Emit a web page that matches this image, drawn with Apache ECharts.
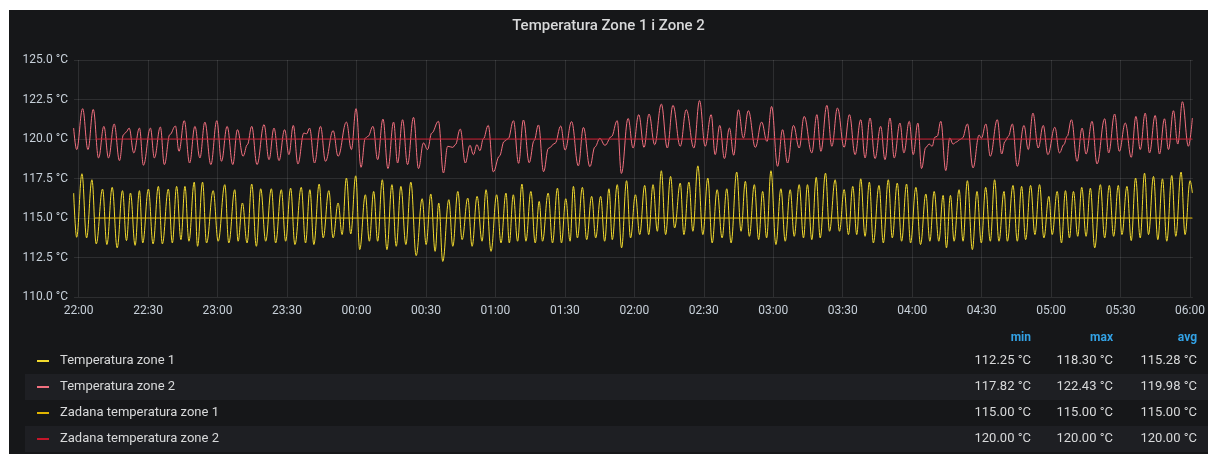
<!DOCTYPE html>
<html>
<head>
<meta charset="utf-8">
<script src="https://cdn.jsdelivr.net/npm/echarts@6/dist/echarts.min.js"></script>
<style>
  html, body { margin: 0; padding: 0; background: #ffffff; }
  #chart { position: absolute; left: 9px; top: 10px; width: 1199px; height: 444px; }
</style>
</head>
<body>
<div id="chart"></div>
<script>
// Readings as [minutes after 22:00, °C]
const zone1 = [
  [-2.15,116.58],[-0.86,113.78],[1.43,117.80],[3.44,113.74],[5.74,117.42],[7.60,113.36],[10.33,116.83],[12.20,113.32],
  [14.49,116.94],[16.64,113.11],[18.94,116.73],[20.66,113.57],[22.38,116.58],[24.39,113.27],[26.26,116.73],[27.69,113.42],
  [30.13,116.83],[32.14,113.36],[34.43,117.00],[36.15,113.36],[38.74,116.83],[40.46,113.42],[42.32,117.00],[44.19,113.63],
  [45.91,117.00],[47.63,113.53],[49.93,117.27],[51.36,113.21],[53.52,117.27],[55.24,113.42],[58.11,116.73],[60.26,113.53],
  [63.13,117.11],[64.85,113.42],[67.43,116.79],[68.87,113.53],[70.73,115.95],[72.74,113.42],[74.75,117.15],[76.76,113.21],
  [78.63,116.85],[80.79,113.53],[83.23,116.85],[85.09,113.42],[87.53,116.79],[89.40,113.53],[91.55,116.89],[93.41,113.32],
  [96.14,116.94],[98.00,113.42],[99.87,116.79],[101.59,113.32],[103.89,117.15],[105.61,113.74],[108.05,116.73],[109.91,113.74],
  [112.06,115.95],[113.79,113.95],[115.65,117.53],[117.52,113.99],[119.67,117.67],[121.39,113.00],[123.83,116.47],[125.55,113.53],
  [127.42,116.68],[129.14,113.53],[131.15,117.42],[133.15,113.00],[135.31,117.11],[137.17,113.21],[139.18,117.00],[141.33,113.32],
  [143.48,117.27],[145.78,112.62],[148.36,116.22],[150.08,113.32],[152.09,116.52],[153.96,112.89],[155.53,115.95],[157.26,112.25],
  [159.88,116.16],[161.60,113.21],[163.76,116.68],[165.62,113.63],[168.06,116.26],[169.93,113.21],[172.08,116.37],[174.23,113.53],
  [175.95,116.79],[178.10,112.89],[180.54,116.47],[182.41,113.42],[184.56,116.58],[186.00,113.42],[187.72,116.47],[189.58,113.53],
  [191.45,117.15],[193.17,113.53],[195.32,116.68],[197.19,113.42],[198.91,116.05],[200.34,113.53],[202.78,116.58],[204.65,113.42],
  [206.80,116.89],[208.52,113.42],[210.38,116.22],[212.25,113.53],[213.68,117.00],[215.41,113.74],[217.56,116.94],[219.42,113.63],
  [221.57,116.37],[223.30,113.74],[225.45,116.37],[227.17,113.53],[229.04,116.85],[230.47,113.63],[232.62,117.11],[234.49,113.11],
  [236.64,117.36],[238.36,113.74],[240.46,116.47],[242.32,113.95],[244.47,117.06],[246.20,113.95],[248.06,117.11],[249.93,114.16],
  [251.65,117.99],[253.51,113.95],[255.66,117.63],[257.39,114.37],[259.83,117.21],[261.40,113.95],[263.56,117.27],[265.28,114.16],
  [267.43,118.30],[269.58,113.95],[271.73,117.53],[273.60,113.42],[275.75,116.79],[277.90,113.74],[279.91,116.85],[281.78,113.42],
  [284.21,117.91],[286.08,114.16],[287.95,117.32],[289.67,113.84],[291.82,117.11],[293.68,113.63],[295.41,116.68],[297.13,113.74],
  [299.00,117.99],[301.14,113.32],[303.30,116.85],[305.16,113.53],[307.31,116.79],[309.04,113.84],[311.19,117.11],[313.05,113.74],
  [314.77,117.11],[316.64,113.63],[318.55,117.57],[320.27,113.74],[322.56,117.84],[324.29,114.16],[326.73,117.42],[328.59,114.16],
  [330.60,116.80],[332.46,113.95],[334.33,117.00],[336.05,113.95],[337.77,117.48],[339.64,113.84],[341.50,117.27],[343.22,113.42],
  [345.66,117.06],[347.53,113.42],[349.68,117.42],[351.40,113.74],[353.55,117.21],[355.42,113.53],[357.57,117.15],[359.29,113.42],
  [361.59,116.94],[363.60,113.32],[365.89,116.52],[367.62,113.53],[369.48,116.68],[371.49,113.53],[373.35,116.43],[374.79,113.11],
  [376.51,116.43],[378.09,113.53],[380.24,116.79],[381.96,113.53],[383.83,117.36],[385.98,113.00],[387.99,116.68],[389.85,113.42],
  [391.72,116.94],[393.73,113.53],[395.59,117.42],[397.46,113.53],[399.65,116.68],[401.09,113.53],[403.53,117.06],[405.39,113.53],
  [407.26,117.00],[408.98,113.63],[411.13,117.06],[413.00,113.95],[415.00,117.11],[416.87,113.74],[419.02,116.37],[420.46,113.95],
  [422.61,116.68],[424.47,113.42],[426.19,116.73],[427.92,113.74],[429.64,116.68],[431.50,113.84],[433.22,116.94],[435.09,113.84],
  [436.95,116.89],[438.82,113.11],[441.26,117.11],[443.12,113.74],[445.13,117.06],[446.99,113.84],[449.01,117.06],[450.58,113.95],
  [452.74,117.00],[454.60,113.57],[456.47,117.53],[458.48,113.74],[460.34,117.84],[462.06,113.95],[464.21,117.63],[466.08,113.63],
  [468.09,117.48],[469.95,113.53],[472.11,117.69],[473.83,113.84],[476.12,117.91],[477.84,113.95],[480.00,117.36],[481.00,116.58]
];

const zone2 = [
  [-2.15,120.69],[-0.86,119.33],[1.72,121.92],[4.02,119.33],[6.31,121.87],[8.61,118.80],[10.90,120.80],[12.91,118.80],
  [15.35,120.95],[17.65,118.63],[19.37,120.27],[20.52,120.44],[21.81,120.69],[23.82,119.12],[26.26,120.69],[27.98,118.34],
  [30.99,120.69],[32.71,118.80],[35.29,120.76],[37.02,118.38],[39.40,120.28],[41.80,120.82],[43.33,119.22],[45.62,121.16],
  [47.92,118.48],[50.22,120.80],[52.37,118.80],[54.52,121.07],[57.10,118.38],[59.68,121.16],[61.69,118.59],[64.13,120.80],
  [66.57,118.38],[68.58,120.59],[71.02,118.91],[72.88,119.64],[74.75,120.80],[77.04,118.38],[80.07,120.91],[82.22,118.69],
  [84.37,120.69],[86.53,118.63],[88.96,120.59],[90.83,119.01],[92.70,120.86],[94.70,118.42],[97.29,120.38],[98.43,120.32],
  [99.73,120.69],[101.88,118.48],[104.46,120.80],[106.61,118.59],[109.91,120.53],[112.06,118.91],[115.65,121.07],[117.80,119.33],
  [119.81,121.92],[121.96,118.21],[123.83,120.06],[124.98,120.17],[127.13,120.80],[129.14,118.69],[131.43,121.26],[133.58,118.13],
  [136.02,121.07],[137.75,118.48],[139.90,121.22],[142.05,118.38],[144.63,121.37],[146.78,118.13],[148.94,119.75],[150.66,119.33],
  [152.52,120.38],[155.39,121.12],[157.54,117.85],[159.40,119.54],[161.60,119.47],[162.70,119.64],[164.80,120.63],[167.00,118.48],
  [169.00,119.60],[170.50,119.01],[172.00,119.64],[173.30,119.26],[174.80,120.02],[176.90,120.86],[179.10,117.92],[181.70,118.91],
  [183.80,119.85],[185.50,120.02],[187.80,121.16],[190.00,118.46],[192.10,121.20],[194.60,118.50],[196.70,119.90],[198.60,120.89],
  [200.80,117.93],[202.90,119.41],[205.80,119.73],[208.20,120.82],[210.10,119.30],[212.90,121.10],[215.80,118.30],[218.00,120.73],
  [220.80,118.25],[223.00,119.50],[225.10,120.04],[227.30,119.60],[230.10,120.15],[232.60,121.16],[234.40,117.82],[237.30,121.30],
  [239.45,119.43],[241.89,121.54],[244.19,119.47],[246.34,121.58],[248.78,119.64],[251.65,122.21],[254.23,119.43],[256.67,122.13],
  [259.83,119.54],[262.41,121.85],[265.71,119.43],[268.15,122.43],[270.59,119.54],[273.17,121.54],[274.89,119.01],[276.90,120.86],
  [278.91,118.76],[281.06,120.69],[282.92,118.97],[284.93,121.85],[287.08,120.06],[289.24,121.79],[292.25,119.47],[294.98,121.07],
  [297.27,119.85],[299.28,122.06],[301.86,118.27],[304.01,120.59],[306.17,118.48],[308.75,120.86],[311.19,119.43],[313.34,121.43],
  [316.64,119.12],[318.83,121.54],[320.56,119.22],[323.14,122.13],[325.29,119.54],[327.73,121.96],[330.60,119.47],[332.90,121.54],
  [335.33,119.01],[337.77,121.22],[339.64,118.80],[341.79,121.33],[343.94,118.76],[346.38,120.80],[348.25,118.69],[350.40,121.33],
  [352.26,118.80],[354.70,121.01],[356.42,119.12],[358.72,121.12],[360.44,119.01],[362.45,121.01],[364.03,118.13],[365.89,119.47],
  [367.33,119.68],[368.62,119.54],[369.77,120.11],[370.77,120.17],[372.35,121.12],[374.50,118.00],[376.22,120.06],[377.66,119.68],
  [379.09,119.81],[380.53,119.96],[381.68,120.06],[383.83,120.95],[386.27,118.17],[388.90,120.25],[389.90,120.05],[391.80,120.95],
  [393.73,118.91],[396.74,121.22],[398.65,119.05],[400.08,119.85],[401.52,120.17],[403.24,120.95],[405.39,118.27],[408.26,120.86],
  [410.13,119.33],[412.13,121.64],[414.43,119.43],[416.58,120.86],[418.59,119.01],[421.60,120.74],[423.61,119.12],[425.48,119.64],
  [426.91,120.17],[428.78,121.22],[431.22,118.59],[433.37,120.69],[435.09,119.05],[437.67,121.12],[439.82,118.42],[443.12,121.28],
  [444.85,119.12],[447.43,121.58],[449.44,119.22],[452.02,121.01],[454.60,118.84],[456.61,121.43],[458.48,119.33],[460.63,121.64],
  [462.49,119.12],[464.93,121.49],[466.80,119.05],[468.95,121.28],[470.67,119.33],[472.82,121.79],[474.69,119.68],[476.70,122.36],
  [479.28,119.54],[481.00,121.33]
];

// Setpoints
const setpoint1 = [[7.0,115.0],[481.0,115.0]];
const setpoint2 = [[7.2,120.0],[481.0,120.0]];

const seriesNames = ['Temperatura zone 1', 'Temperatura zone 2', 'Zadana temperatura zone 1', 'Zadana temperatura zone 2'];
const seriesColors = ['#F2DA2E', '#F2707F', '#E0B400', '#C4162A'];

// Legend table statistics
const statHeaders = ['min', 'max', 'avg'];
const statMin = [112.25, 117.82, 115.00, 120.00];
const statMax = [118.30, 122.43, 115.00, 120.00];
const statAvg = [115.28, 119.98, 115.00, 120.00];

// Axis ticks: minutes after 22:00 (every half hour) and °C
const xTickMinutes = [0, 30, 60, 90, 120, 150, 180, 210, 240, 270, 300, 330, 360, 390, 420, 450, 480];
const yTicks = [110, 112.5, 115, 117.5, 120, 122.5, 125];

const START_HOUR = 22;
const pad2 = n => String(n).padStart(2, '0');
const clockLabel = m => {
  const total = Math.round(m);
  const h = (START_HOUR + Math.floor(total / 60)) % 24;
  return pad2(h) + ':' + pad2(total % 60);
};

const FONT = 'Roboto, "Noto Sans", "DejaVu Sans", sans-serif';
const rowY = [351, 377, 403, 429];
const colX = [1022, 1104, 1188];

const graphics = [];
// striped rows of the legend table
[1, 3].forEach(i => {
  graphics.push({
    type: 'rect', z: 0, silent: true,
    shape: { x: 16, y: rowY[i] - 13, width: 1183, height: 26 },
    style: { fill: '#1e1f23' }
  });
});
statHeaders.forEach((h, j) => {
  graphics.push({
    type: 'text', z: 5, silent: true,
    style: { text: h, x: colX[j], y: 328, align: 'right', verticalAlign: 'middle',
      fill: '#33a2e5', font: 'bold 12px ' + FONT }
  });
});
[statMin, statMax, statAvg].forEach((col, j) => {
  col.forEach((v, i) => {
    graphics.push({
      type: 'text', z: 5, silent: true,
      style: { text: v.toFixed(2) + ' °C', x: colX[j], y: rowY[i], align: 'right', verticalAlign: 'middle',
        fill: '#d8d9da', font: '13px ' + FONT }
    });
  });
});

const lineSeries = (i, data, smooth) => ({
  name: seriesNames[i],
  type: 'line',
  data: data,
  showSymbol: false,
  symbol: 'none',
  smooth: smooth,
  smoothMonotone: 'x',
  lineStyle: { width: 1, color: seriesColors[i] },
  itemStyle: { color: seriesColors[i] },
  emphasis: { disabled: true }
});

const chart = echarts.init(document.getElementById('chart'), null, { renderer: 'canvas' });
chart.setOption({
  backgroundColor: '#161719',
  animation: false,
  textStyle: { fontFamily: FONT },
  title: {
    text: 'Temperatura Zone 1 i Zone 2',
    left: 'center', top: 9, padding: 0,
    textStyle: { color: '#d8d9da', fontSize: 15, fontWeight: 500, fontFamily: FONT }
  },
  grid: { left: 65, right: 11.5, top: 50, bottom: 157 },
  xAxis: {
    type: 'value',
    min: -2.0,
    max: 481.2,
    axisLine: { show: false },
    axisTick: { show: false, customValues: xTickMinutes },
    splitLine: { show: true, lineStyle: { color: 'rgba(255,255,255,0.1)', width: 1 } },
    axisLabel: { customValues: xTickMinutes, formatter: v => clockLabel(v), color: '#c7d0d9', fontSize: 12, margin: 8, hideOverlap: false }
  },
  yAxis: {
    type: 'value',
    min: yTicks[0],
    max: yTicks[yTicks.length - 1],
    interval: 2.5,
    axisLine: { show: false },
    axisTick: { show: false },
    splitLine: { show: true, lineStyle: { color: 'rgba(255,255,255,0.1)', width: 1 } },
    axisLabel: { formatter: v => v.toFixed(1) + ' °C', color: '#c7d0d9', fontSize: 12, margin: 6 }
  },
  legend: {
    orient: 'vertical', left: 28, top: 338, padding: 0,
    itemWidth: 12, itemHeight: 2, itemGap: 0, icon: 'rect',
    selectedMode: false,
    textStyle: { color: '#d8d9da', fontSize: 13, lineHeight: 26, padding: [0, 0, 0, 6], fontFamily: FONT },
    data: seriesNames
  },
  graphic: graphics,
  series: [
    lineSeries(0, zone1, 0.4),
    lineSeries(1, zone2, 0.4),
    lineSeries(2, setpoint1, false),
    lineSeries(3, setpoint2, false)
  ]
});
</script>
</body>
</html>
